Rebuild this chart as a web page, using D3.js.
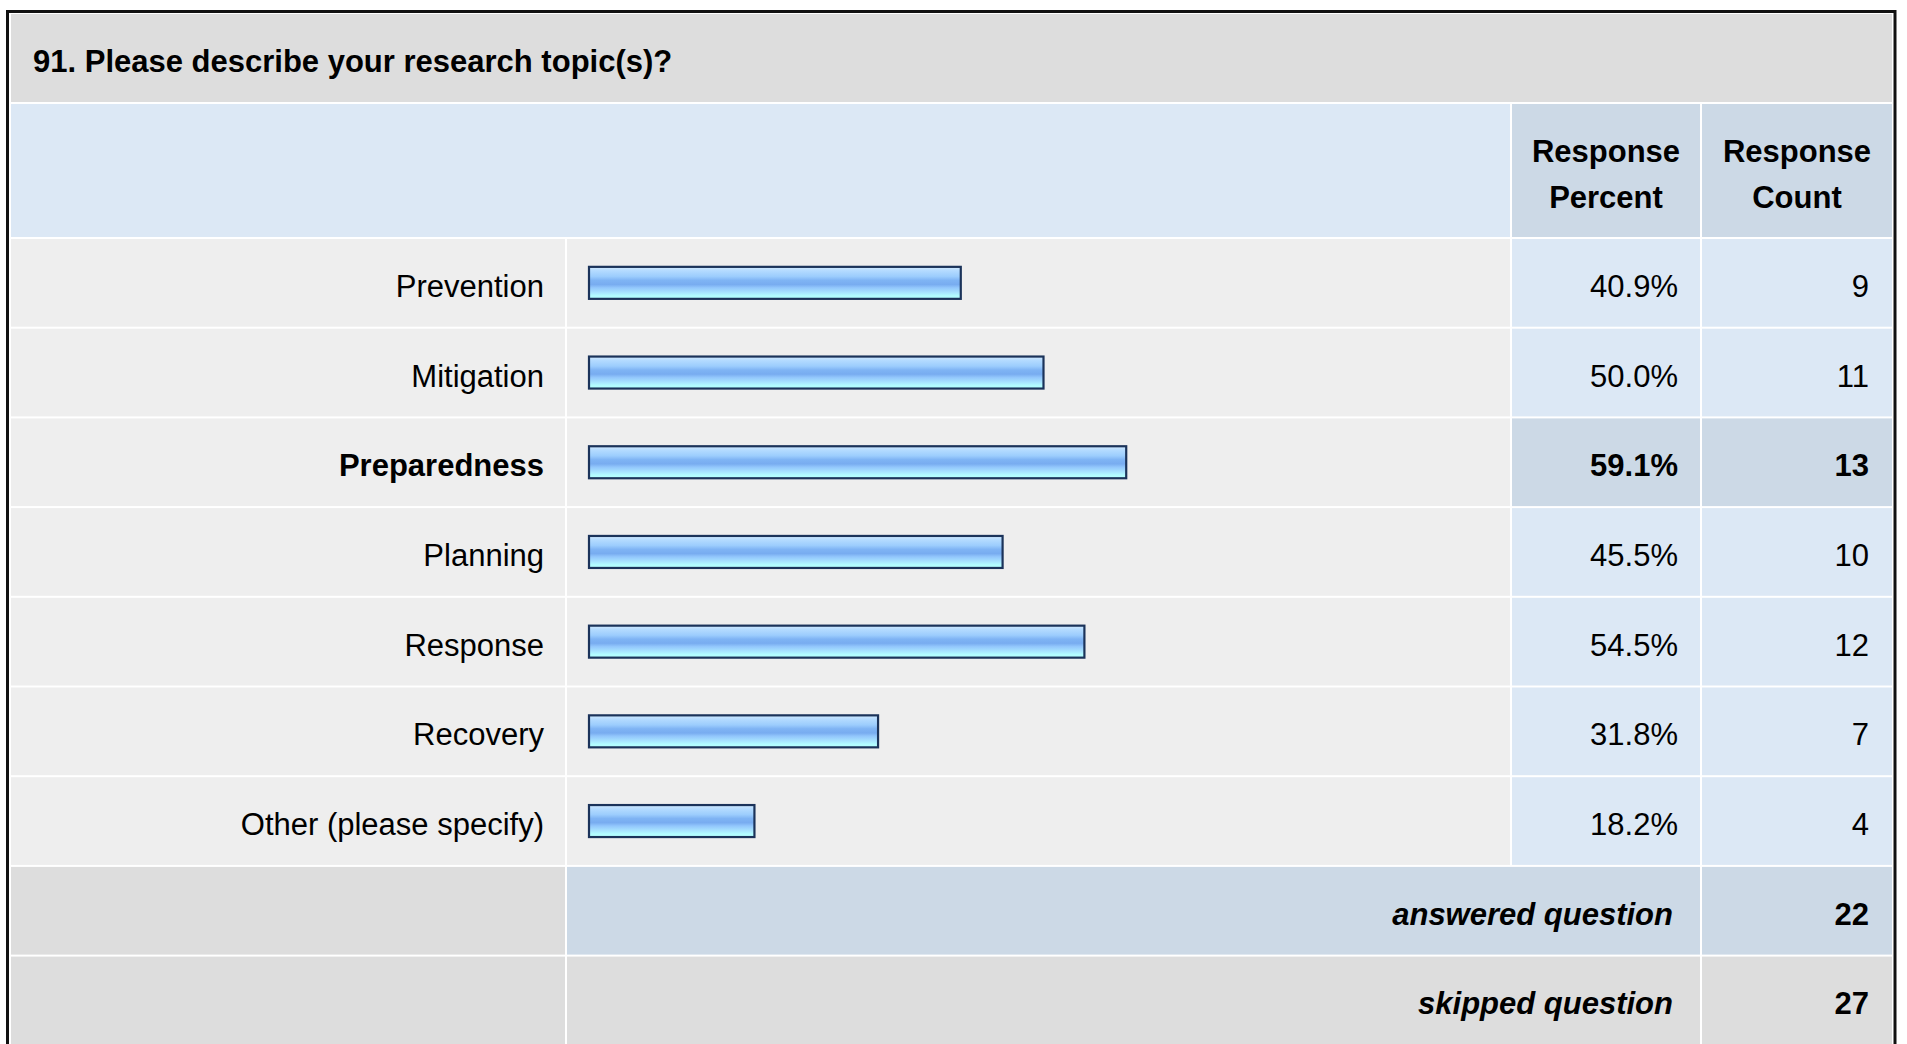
<!DOCTYPE html>
<html>
<head>
<meta charset="utf-8">
<script src="https://cdn.jsdelivr.net/npm/d3@7"></script>
<style>
  html, body { margin: 0; padding: 0; background: #ffffff; }
  svg { display: block; }
  text { font-family: "Liberation Sans", Arial, sans-serif; fill: #000; }
</style>
</head>
<body>
<script>
// ---- data ----
const title = "91. Please describe your research topic(s)?";
const categories = ["Prevention", "Mitigation", "Preparedness", "Planning", "Response", "Recovery", "Other (please specify)"];
const percents = [40.9, 50.0, 59.1, 45.5, 54.5, 31.8, 18.2];
const counts = [9, 11, 13, 10, 12, 7, 4];
const headerLabels = [["Response", "Percent"], ["Response", "Count"]];
const summaryLabels = ["answered question", "skipped question"];
const summaryValues = [22, 27];

// ---- layout ----
const W = 1907, H = 1044;
const FS = 31;
const svg = d3.select("body").append("svg").attr("width", W).attr("height", H);

const defs = svg.append("defs");
const grad = defs.append("linearGradient").attr("id", "barGrad")
  .attr("x1", 0).attr("y1", 0).attr("x2", 0).attr("y2", 1);
[[0, "#d2eaff"], [0.12, "#b4dbff"], [0.3, "#9ccdfd"], [0.42, "#7fb4f4"], [0.55, "#78acf0"],
 [0.65, "#92c6fc"], [0.8, "#a8e4ff"], [0.9, "#b2fcff"], [1, "#b4ffff"]]
  .forEach(([o, c]) => grad.append("stop").attr("offset", o).attr("stop-color", c));

// columns
const colLabel = [11, 565], colBar = [567, 1510], colPct = [1512, 1700], colCnt = [1702, 1892];

// outer border
svg.append("rect").attr("x", 7.5).attr("y", 11.5).attr("width", 1887.5).attr("height", 1100)
  .attr("fill", "#ffffff").attr("stroke", "#111").attr("stroke-width", 3);

// title band
svg.append("rect").attr("x", 11).attr("y", 14).attr("width", 1881).attr("height", 88).attr("fill", "#dddddd");
svg.append("text").attr("x", 33).attr("y", 71.5).attr("font-size", FS).attr("font-weight", "bold").text(title);

// header row
const hTop = 104, hBot = 237;
svg.append("rect").attr("x", colLabel[0]).attr("y", hTop).attr("width", colBar[1] - colLabel[0]).attr("height", hBot - hTop).attr("fill", "#dce8f5");
[colPct, colCnt].forEach((c, i) => {
  svg.append("rect").attr("x", c[0]).attr("y", hTop).attr("width", c[1] - c[0]).attr("height", hBot - hTop).attr("fill", "#ccd9e6");
  const t = svg.append("text").attr("text-anchor", "middle").attr("font-size", FS).attr("font-weight", "bold");
  headerLabels[i].forEach((s, j) => t.append("tspan").attr("x", (c[0] + c[1]) / 2).attr("y", 162 + j * 45.5).text(s));
});

// rows
const rowKeys = categories.concat(summaryLabels);
const y = d3.scaleBand().domain(rowKeys).range([239, 239 + 9 * 89.7 - 2]).paddingInner(2 / 89.7).paddingOuter(0);
const x = d3.scaleLinear().domain([0, 100]).range([589, 1498]);
const maxV = d3.max(percents);
const TY = 14;

categories.forEach((cat, i) => {
  const top = y(cat), h = y.bandwidth(), cy = top + h / 2;
  const hi = percents[i] === maxV;
  const g = svg.append("g");
  g.append("rect").attr("x", colLabel[0]).attr("y", top).attr("width", colLabel[1] - colLabel[0]).attr("height", h).attr("fill", "#eeeeee");
  g.append("rect").attr("x", colBar[0]).attr("y", top).attr("width", colBar[1] - colBar[0]).attr("height", h).attr("fill", "#eeeeee");
  g.append("rect").attr("x", colPct[0]).attr("y", top).attr("width", colPct[1] - colPct[0]).attr("height", h).attr("fill", hi ? "#ccd9e6" : "#dce8f5");
  g.append("rect").attr("x", colCnt[0]).attr("y", top).attr("width", colCnt[1] - colCnt[0]).attr("height", h).attr("fill", hi ? "#ccd9e6" : "#dce8f5");
  const fw = hi ? "bold" : "normal";
  g.append("text").attr("x", colLabel[1] - 21).attr("y", cy + TY).attr("text-anchor", "end").attr("font-size", FS).attr("font-weight", fw).text(cat);
  g.append("rect").attr("x", x(0)).attr("y", cy - 16).attr("width", x(percents[i]) - x(0)).attr("height", 32)
    .attr("fill", "url(#barGrad)").attr("stroke", "#1b335a").attr("stroke-width", 2.2);
  g.append("text").attr("x", colPct[1] - 22).attr("y", cy + TY).attr("text-anchor", "end").attr("font-size", FS).attr("font-weight", fw).text(percents[i].toFixed(1) + "%");
  g.append("text").attr("x", colCnt[1] - 23).attr("y", cy + TY).attr("text-anchor", "end").attr("font-size", FS).attr("font-weight", fw).text(counts[i]);
});

// summary rows
summaryLabels.forEach((lab, i) => {
  const top = y(lab), h = y.bandwidth(), cy = top + h / 2;
  const mid = i === 0 ? "#ccd9e6" : "#dddddd";
  svg.append("rect").attr("x", colLabel[0]).attr("y", top).attr("width", colLabel[1] - colLabel[0]).attr("height", h).attr("fill", "#dddddd");
  svg.append("rect").attr("x", colBar[0]).attr("y", top).attr("width", colPct[1] - colBar[0]).attr("height", h).attr("fill", mid);
  svg.append("rect").attr("x", colCnt[0]).attr("y", top).attr("width", colCnt[1] - colCnt[0]).attr("height", h).attr("fill", mid);
  svg.append("text").attr("x", colPct[1] - 27).attr("y", cy + TY).attr("text-anchor", "end").attr("font-size", FS)
    .attr("font-weight", "bold").attr("font-style", "italic").text(lab);
  svg.append("text").attr("x", colCnt[1] - 23).attr("y", cy + TY).attr("text-anchor", "end").attr("font-size", FS)
    .attr("font-weight", "bold").text(summaryValues[i]);
});
</script>
</body>
</html>
